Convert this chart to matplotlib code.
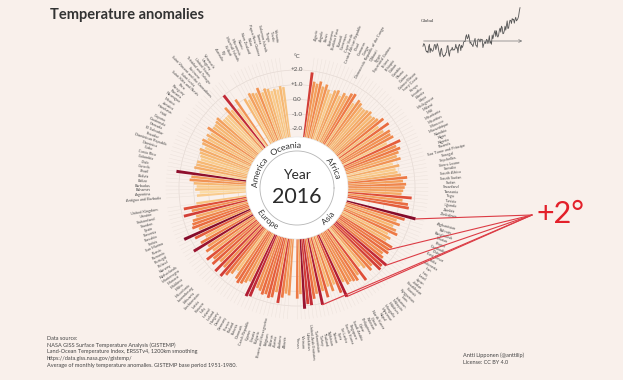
import numpy as np
import matplotlib
matplotlib.use('Agg')
import matplotlib.pyplot as plt
from matplotlib.colors import LinearSegmentedColormap, Normalize
from matplotlib.patches import ConnectionPatch, PathPatch
from matplotlib.font_manager import FontProperties
from matplotlib.textpath import TextPath
from matplotlib.path import Path

plt.rcParams['font.family'] = ['Lato', 'DejaVu Sans']

# ---------------- data ----------------
africa = ["Algeria", "Angola", "Benin", "Botswana", "Burkina Faso", "Burundi", "Cameroon", "Cape Verde",
          "Central African Republic", "Chad", "Comoros", "Congo", "Democratic Republic of the Congo", "Djibouti",
          "Egypt", "Equatorial Guinea", "Eritrea", "Ethiopia", "Gabon", "Gambia", "Ghana", "Guinea",
          "Guinea-Bissau", "Ivory Coast", "Kenya", "Lesotho", "Liberia", "Libya", "Madagascar", "Malawi", "Mali",
          "Mauritania", "Mauritius", "Morocco", "Mozambique", "Namibia", "Niger", "Nigeria", "Rwanda",
          "Sao Tome and Principe", "Senegal", "Seychelles", "Sierra Leone", "Somalia", "South Africa",
          "South Sudan", "Sudan", "Swaziland", "Tanzania", "Togo", "Tunisia", "Uganda", "Zambia", "Zimbabwe"]
africa_vals = [1.9, 1.3, 1.2, 1.4, 1.1, 1.3, 1.0, 0.8, 1.1, 1.2, 0.9, 1.2, 1.1, 1.4, 1.5, 0.9, 1.3, 1.2,
               1.0, 1.0, 1.1, 1.2, 1.0, 1.1, 1.2, 1.5, 0.9, 1.6, 1.0, 1.4, 1.3, 1.4, 0.8, 1.7, 1.3, 1.5,
               1.3, 1.1, 1.3, 0.7, 1.1, 0.8, 0.9, 1.1, 1.5, 1.2, 1.4, 1.3, 1.2, 1.1, 1.8, 1.2, 1.6, 1.7]

asia = ["Afghanistan", "Bahrain", "Bangladesh", "Bhutan", "Brunei", "Cambodia", "China", "East Timor", "India",
        "Indonesia", "Iran", "Iraq", "Israel", "Japan", "Jordan", "Kazakhstan", "Kuwait", "Kyrgyzstan", "Laos",
        "Lebanon", "Malaysia", "Maldives", "Mongolia", "Myanmar", "Nepal", "North Korea", "Oman", "Pakistan",
        "Philippines", "Qatar", "Saudi Arabia", "Singapore", "South Korea", "Sri Lanka", "Syria", "Taiwan",
        "Tajikistan", "Thailand", "Turkey", "Turkmenistan", "United Arab Emirates", "Uzbekistan", "Vietnam", "Yemen"]
asia_vals = [2.3, 1.6, 1.1, 1.4, 1.0, 1.3, 1.5, 0.9, 1.2, 1.0, 1.6, 1.5, 1.6, 1.3, 1.5, 2.0, 1.8, 1.9, 1.3,
             1.5, 1.1, 0.8, 1.8, 1.2, 1.5, 1.4, 1.3, 1.4, 1.1, 2.1, 1.7, 1.0, 1.4, 1.0, 1.7, 1.2, 2.1, 1.3,
             1.6, 2.0, 1.9, 2.2, 1.2, 1.5]

europe = ["Albania", "Andorra", "Austria", "Belarus", "Belgium", "Bosnia and Herzegovina", "Bulgaria", "Croatia",
          "Cyprus", "Czech Republic", "Denmark", "Estonia", "Finland", "France", "Germany", "Greece", "Hungary",
          "Iceland", "Ireland", "Italy", "Kosovo", "Latvia", "Liechtenstein", "Lithuania", "Luxembourg",
          "Macedonia", "Malta", "Moldova", "Monaco", "Montenegro", "Netherlands", "Norway", "Poland", "Portugal",
          "Romania", "Russia", "San Marino", "Serbia", "Slovakia", "Slovenia", "Spain", "Sweden", "Switzerland",
          "Ukraine", "United Kingdom"]
europe_vals = [1.3, 1.2, 1.5, 1.9, 1.2, 1.6, 1.7, 1.5, 1.6, 1.4, 1.3, 2.0, 2.1, 1.1, 1.3, 1.5, 1.6, 1.4, 0.9,
               1.3, 1.6, 1.9, 1.3, 1.9, 1.2, 1.7, 1.4, 1.8, 1.1, 1.5, 1.2, 2.2, 1.5, 1.0, 1.7, 2.4, 1.2, 1.6,
               1.5, 1.4, 1.1, 1.9, 1.3, 1.8, 0.9]

america = ["Antigua and Barbuda", "Argentina", "Bahamas", "Barbados", "Belize", "Bolivia", "Brazil", "Canada",
           "Chile", "Colombia", "Costa Rica", "Cuba", "Dominica", "Dominican Republic", "Ecuador", "El Salvador",
           "Grenada", "Guatemala", "Guyana", "Haiti", "Honduras", "Jamaica", "Mexico", "Nicaragua", "Panama",
           "Paraguay", "Peru", "Saint Kitts and Nevis", "Saint Lucia", "Saint Vincent and the Grenadines",
           "Suriname", "Trinidad and Tobago", "United States", "Uruguay", "Venezuela"]
america_vals = [0.8, 0.6, 0.9, 0.8, 1.0, 1.3, 1.2, 2.25, 0.7, 1.1, 1.0, 1.0, 0.8, 0.9, 1.0, 1.1, 0.8, 1.1,
                1.2, 0.9, 1.1, 0.9, 1.3, 1.0, 1.0, 1.1, 1.2, 0.8, 0.8, 0.8, 1.3, 0.9, 2.0, 0.7, 1.3]

oceania = ["Australia", "Fiji", "Kiribati", "Marshall Islands", "Micronesia", "Nauru", "New Zealand", "Palau",
           "Papua New Guinea", "Samoa", "Solomon Islands", "Tonga", "Tuvalu", "Vanuatu"]
oceania_vals = [1.0, 0.8, 1.2, 1.1, 1.0, 1.3, 0.9, 1.1, 1.0, 0.8, 0.9, 0.8, 1.0, 0.9]

continents = ["Africa", "Asia", "Europe", "America", "Oceania"]
highlight = ["Afghanistan", "Iraq", "Kazakhstan", "Qatar", "Tajikistan"]

grid_levels = [-2.0, -1.0, 0.0, 1.0, 2.0]
grid_labels = ["-2.0", "-1.0", "0.0", "+1.0", "+2.0"]

years = list(range(1880, 2017))
global_anom = [-0.16, -0.08, -0.10, -0.17, -0.28, -0.33, -0.31, -0.36, -0.17, -0.10,
               -0.35, -0.22, -0.27, -0.31, -0.30, -0.22, -0.11, -0.11, -0.26, -0.17,
               -0.08, -0.15, -0.28, -0.37, -0.47, -0.26, -0.22, -0.39, -0.43, -0.48,
               -0.43, -0.44, -0.36, -0.34, -0.15, -0.14, -0.36, -0.46, -0.29, -0.27,
               -0.27, -0.19, -0.28, -0.26, -0.27, -0.22, -0.10, -0.22, -0.20, -0.36,
               -0.16, -0.10, -0.16, -0.29, -0.13, -0.20, -0.15, -0.03, -0.01, -0.02,
               0.13, 0.19, 0.07, 0.09, 0.20, 0.09, -0.07, -0.03, -0.11, -0.11,
               -0.17, -0.07, 0.01, 0.08, -0.13, -0.14, -0.19, 0.05, 0.06, 0.03,
               -0.03, 0.06, 0.03, 0.05, -0.20, -0.11, -0.06, -0.02, -0.08, 0.05,
               0.03, -0.08, 0.01, 0.16, -0.07, -0.01, -0.10, 0.18, 0.07, 0.16,
               0.26, 0.32, 0.14, 0.31, 0.16, 0.12, 0.18, 0.32, 0.39, 0.27,
               0.45, 0.41, 0.22, 0.23, 0.31, 0.45, 0.33, 0.46, 0.61, 0.38,
               0.39, 0.54, 0.63, 0.62, 0.53, 0.68, 0.64, 0.66, 0.54, 0.65,
               0.72, 0.61, 0.64, 0.68, 0.75, 0.90, 1.01]

footer = ["Data source:",
          "NASA GISS Surface Temperature Analysis (GISTEMP)",
          "Land-Ocean Temperature Index, ERSSTv4, 1200km smoothing",
          "https://data.giss.nasa.gov/gistemp/",
          "Average of monthly temperature anomalies. GISTEMP base period 1951-1980."]
credit = ["Antti Lipponen (@anttilip)", "License: CC BY 4.0"]

# ---------------- layout / style ----------------
W, H, DPI = 623, 380, 100
BG = '#f9f0eb'
CX, CY = 297, 188          # centre of the wheel (px)
HALF = 180                 # half size of polar axes (px)
RMIN, RMAX = -6.0, 6.2
PXU = HALF / (RMAX - RMIN)
SLOT, START, GAP = 1.75, 82.5, 2.5
BASE = -2.54
WHITE_R = -2.54
RING_R = -3.49
LABEL_R = 4.44

fig = plt.figure(figsize=(W / DPI, H / DPI), dpi=DPI, facecolor=BG)
ax = fig.add_axes([(CX - HALF) / W, (H - CY - HALF) / H, 2 * HALF / W, 2 * HALF / H], projection='polar')
ax.set_facecolor('none')
ax.set_ylim(RMIN, RMAX)
ax.set_autoscale_on(False)
ax.spines['polar'].set_visible(False)
ax.set_xticks([])
ax.set_yticks(grid_levels)
ax.set_yticklabels([])
ax.yaxis.grid(True, color='#e4d9d3', lw=0.5)
ax.xaxis.grid(False)
ax.tick_params(length=0)
ax.set_axisbelow(True)

groups = [(africa, africa_vals), (asia, asia_vals), (europe, europe_vals), (america, america_vals),
          (oceania, oceania_vals)]
names, vals, angs = [], [], []
pos = 0.0
for gi, (n, v) in enumerate(groups):
    if gi > 0:
        pos += GAP - 1
    for name, val in zip(n, v):
        names.append(name)
        vals.append(val)
        angs.append(START - pos * SLOT)
        pos += 1
angs = np.array(angs)
vals = np.array(vals)
th = np.deg2rad(angs)

cmap = LinearSegmentedColormap.from_list('anom', [
    (0.0, '#fbdca6'), (0.2, '#f7bf7a'), (0.38, '#f29a58'), (0.55, '#ec7442'),
    (0.72, '#de4b37'), (0.86, '#b81f35'), (1.0, '#850b2a')])
norm = Normalize(0.6, 2.3)

# faint guide lines
ax.vlines(th, BASE, 2.9, color='#ece2dc', lw=0.35, zorder=1)
# bars
ax.bar(th, vals - BASE, bottom=BASE, width=np.deg2rad(SLOT) * 0.82, color=cmap(norm(vals)),
       linewidth=0, zorder=3)
# white centre disk and ring
ax.bar(0, WHITE_R - RMIN, bottom=RMIN, width=2 * np.pi + 0.01, color='white', linewidth=0, zorder=4)
tt = np.linspace(0, 2 * np.pi, 361)
ax.plot(tt, np.full_like(tt, RING_R), color='#b5b5b5', lw=0.6, zorder=5)
ax.plot(tt, np.full_like(tt, WHITE_R), color='#e2e2e2', lw=0.4, zorder=5)

# radial axis labels
for lv, lt in zip(grid_levels, grid_labels):
    ax.text(np.pi / 2, lv, lt, ha='center', va='center', fontsize=4.5, color='#555555', zorder=6)
ax.text(np.pi / 2, 2.88, '°C', ha='center', va='center', fontsize=4.5, color='#555555', zorder=6)

# country labels
for a, n in zip(angs, names):
    a180 = (a + 180) % 360 - 180
    rot = a180 if -90 < a180 <= 90 else a180 - 180
    ax.text(np.deg2rad(a), LABEL_R, n, rotation=rot, rotation_mode='anchor', ha='center', va='center',
            fontsize=2.8, color='#4a4a4a')


# continent labels: glyph outlines bent along the ring
def arc_text(text, center_deg, r_base_px, fs, outward=True):
    fp = FontProperties(family='Lato', size=fs)
    tp = TextPath((0, 0), text, prop=fp)
    ext = tp.get_extents()
    k = DPI / 72
    x = (tp.vertices[:, 0] - (ext.x0 + ext.x1) / 2) * k
    y = tp.vertices[:, 1] * k
    if outward:
        ang = np.deg2rad(center_deg) - x / r_base_px
        rad = r_base_px + y
    else:
        ang = np.deg2rad(center_deg) + x / r_base_px
        rad = r_base_px - y
    path = Path(np.column_stack([ang, rad / PXU + RMIN]), tp.codes)
    ax.add_patch(PathPatch(path, transform=ax.transData, facecolor='#333333', edgecolor='none',
                           lw=0, zorder=7))


cont_angle = {"Africa": 28, "Asia": -45, "Europe": -132, "America": 159, "Oceania": 106}
for c in continents:
    a = cont_angle[c]
    if a > 0:
        arc_text(c, a, 40.0, 6.0, outward=True)
    else:
        arc_text(c, a, 46.0, 6.0, outward=False)

ax.text(0.5, 0.5 + 13 / (2 * HALF), 'Year', transform=ax.transAxes, ha='center', va='center',
        fontsize=10, color='#2b2b2b', zorder=8)
ax.text(0.5, 0.5 - 9 / (2 * HALF), '2016', transform=ax.transAxes, ha='center', va='center',
        fontsize=15.5, color='#2b2b2b', zorder=8)

# +2 annotation
fig.text(561 / W, 1 - 214 / H, '+2°', ha='center', va='center', fontsize=22, color='#e3202a')
src = (532 / W, 1 - 215 / H)
for n in highlight:
    i = names.index(n)
    cp = ConnectionPatch(xyA=(th[i], vals[i]), coordsA=ax.transData, xyB=src, coordsB=fig.transFigure,
                         color='#dc3c45', lw=0.8, zorder=9)
    fig.add_artist(cp)

# title and footers
fig.text(50 / W, 1 - 15 / H, 'Temperature anomalies', ha='left', va='center', fontsize=10.5,
         fontweight='bold', color='#333333')
for k, line in enumerate(footer):
    fig.text(47 / W, 1 - (338 + 6.8 * k) / H, line, ha='left', va='center', fontsize=4, color='#444444')
for k, line in enumerate(credit):
    fig.text(463 / W, 1 - (355 + 8 * k) / H, line, ha='left', va='center', fontsize=4, color='#444444')

# inset: global series
iax = fig.add_axes([415 / W, 1 - 60.8 / H, 115 / W, 59.4 / H])
iax.set_xlim(1868.8, 2030)
iax.set_ylim(-0.6, 1.2)
iax.axis('off')
iax.annotate('', xy=(2023, 0), xytext=(1877, 0),
             arrowprops=dict(arrowstyle='->', lw=0.5, color='#777777', mutation_scale=5))
iax.plot(years, global_anom, color='#555555', lw=0.6)
iax.text(1877, 0.6, 'Global', fontsize=3.5, family='Liberation Serif', color='#333333', va='center')

fig.savefig('out.png', dpi=DPI, facecolor=BG)
